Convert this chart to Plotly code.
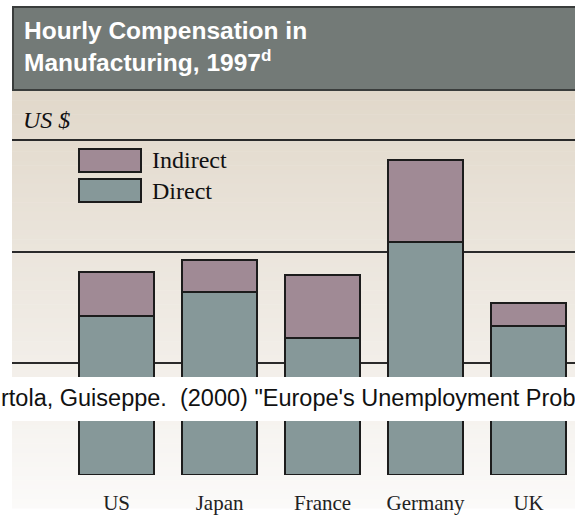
import plotly.graph_objects as go

# Hourly compensation in manufacturing, 1997 (US $ per hour)
countries = ["US", "Japan", "France", "Germany", "UK"]
direct = [14.24, 16.42, 12.26, 20.91, 13.34]
indirect = [3.95, 2.87, 5.66, 7.33, 2.06]
grid_values = [0, 10, 20, 30]

title_text = "Hourly Compensation in<br>Manufacturing, 1997<sup>d</sup>"
unit_text = "<i>US $</i>"
source_text = "rtola, Guiseppe. &nbsp;(2000) \"Europe's Unemployment Problems\""

DIRECT_COLOR = "#869899"
INDIRECT_COLOR = "#a08a95"
EDGE = "#1c1c1c"

W, H = 575, 516
ML, MR, MT, MB = 12, 0, 91, 41
PW, PH = W - ML - MR, H - MT - MB


def px_x(px):
    return (px - ML) / PW


def px_y(py):
    return (H - MB - py) / PH


fig = go.Figure()
fig.add_trace(go.Bar(
    x=countries, y=direct, name="Direct", width=0.72,
    marker=dict(color=DIRECT_COLOR, line=dict(color=EDGE, width=2)),
    showlegend=False,
))
fig.add_trace(go.Bar(
    x=countries, y=indirect, name="Indirect", width=0.72,
    marker=dict(color=INDIRECT_COLOR, line=dict(color=EDGE, width=2)),
    showlegend=False,
))

shapes = []
# vertical beige-to-white background wash
top_c, bot_c = (225, 216, 202), (251, 250, 249)
y_top, y_bot = 91, 508
n = 90
for i in range(n):
    t = i / (n - 1)
    c = tuple(round(a + (b - a) * t) for a, b in zip(top_c, bot_c))
    y0 = y_top + (y_bot - y_top) * i / n
    y1 = y_top + (y_bot - y_top) * (i + 1) / n + 0.6
    shapes.append(dict(type="rect", xref="paper", yref="paper", layer="below",
                       x0=0, x1=1.02, y0=px_y(y1), y1=px_y(y0),
                       fillcolor=f"rgb{c}", line=dict(width=0)))

# title banner
shapes.append(dict(type="rect", xref="paper", yref="paper", layer="above",
                   x0=px_x(13), x1=px_x(590), y0=px_y(90), y1=px_y(7),
                   fillcolor="#737a77", line=dict(color="#3a3d3c", width=2)))

# white strip carrying the source line
shapes.append(dict(type="rect", xref="paper", yref="paper", layer="above",
                   x0=px_x(-5), x1=px_x(590), y0=px_y(421), y1=px_y(377),
                   fillcolor="white", line=dict(width=0)))

# legend swatches
for (y0, y1), col in [((149, 172), INDIRECT_COLOR), ((179, 202), DIRECT_COLOR)]:
    shapes.append(dict(type="rect", xref="paper", yref="paper", layer="above",
                       x0=px_x(79), x1=px_x(141), y0=px_y(y1), y1=px_y(y0),
                       fillcolor=col, line=dict(color=EDGE, width=2)))

serif = "Liberation Serif, Times New Roman"
sans = "Liberation Sans, Arial"

annotations = [
    dict(text=title_text, xref="paper", yref="paper", x=px_x(22), y=px_y(46),
         xanchor="left", yanchor="middle", align="left", showarrow=False,
         font=dict(family=sans, size=24.5, color="white", weight="bold")),
    dict(text=unit_text, xref="paper", yref="paper", x=px_x(21), y=px_y(120),
         xanchor="left", yanchor="middle", showarrow=False,
         font=dict(family=serif, size=24, color="#111")),
    dict(text="Indirect", xref="paper", yref="paper", x=px_x(150), y=px_y(160),
         xanchor="left", yanchor="middle", showarrow=False,
         font=dict(family=serif, size=24, color="#111")),
    dict(text="Direct", xref="paper", yref="paper", x=px_x(150), y=px_y(191),
         xanchor="left", yanchor="middle", showarrow=False,
         font=dict(family=serif, size=24, color="#111")),
    dict(text=source_text, xref="paper", yref="paper", x=px_x(-1), y=px_y(398),
         xanchor="left", yanchor="middle", showarrow=False,
         font=dict(family=sans, size=23.5, color="#111")),
]

fig.update_layout(
    width=W, height=H,
    margin=dict(l=ML, r=MR, t=MT, b=MB, pad=0, autoexpand=False),
    barmode="stack",
    paper_bgcolor="white",
    plot_bgcolor="rgba(0,0,0,0)",
    shapes=shapes,
    annotations=annotations,
    showlegend=False,
    xaxis=dict(
        type="category", range=[-1.015, 4.451], showgrid=False,
        zeroline=False, showline=False, ticks="", automargin=False,
        tickfont=dict(family=serif, size=21, color="#222"),
        ticklabelstandoff=13,
    ),
    yaxis=dict(
        range=[-0.036, 34.43], tickvals=grid_values, showticklabels=False,
        showgrid=True, gridcolor="#2a2a2a", gridwidth=2,
        zeroline=False, showline=False, ticks="", automargin=False,
    ),
)

fig.write_html("out.html")
